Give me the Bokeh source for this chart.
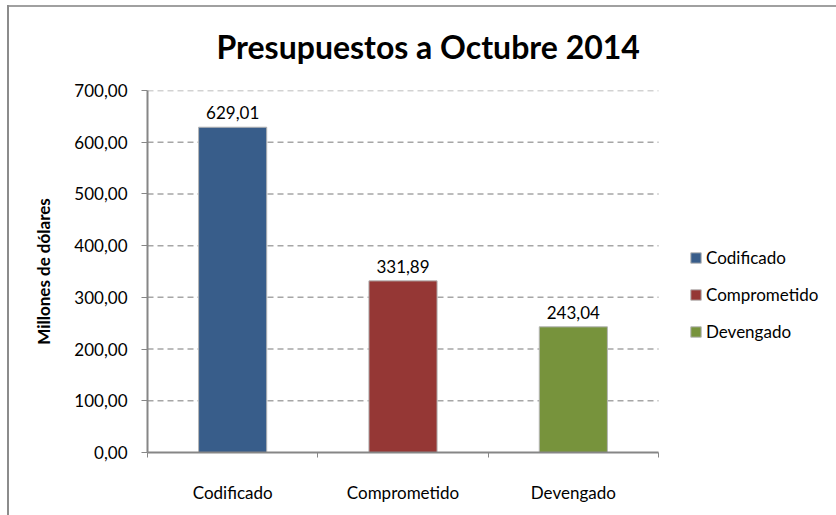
from bokeh.plotting import figure
from bokeh.models import (ColumnDataSource, FixedTicker, CustomJSTickFormatter,
                          Range1d, Legend, LegendItem, Title)
from bokeh.core.properties import value
from bokeh.embed import file_html
from bokeh.resources import INLINE

categories = ["Codificado", "Comprometido", "Devengado"]
values = [629.01, 331.89, 243.04]
labels = ["629,01", "331,89", "243,04"]
colors = ["#385D8A", "#953735", "#77933C"]
y_ticks = [0, 100, 200, 300, 400, 500, 600, 700]

FONT = "Lato"

W, H = 836, 515
LEFT, TOP, BOTTOM = 147, 90, 63
PLOT_RIGHT = 658  # right end of the category axis
n = len(categories)
x_end = n * (W - LEFT) / (PLOT_RIGHT - LEFT)

x_pos = [i + 0.5 for i in range(n)]
src = ColumnDataSource(dict(x=x_pos, top=values, cat=categories, lab=labels, color=colors))

p = figure(width=W, height=H, output_backend="svg", toolbar_location=None,
           x_range=Range1d(0, x_end), y_range=Range1d(0, y_ticks[-1]),
           min_border_left=LEFT, min_border_right=0, min_border_top=TOP, min_border_bottom=BOTTOM)
p.outline_line_color = None
p.background_fill_color = "white"
p.border_fill_alpha = 0
p.styles = {
    "background": "linear-gradient(#8C8C8C, #8C8C8C) 7px 5px / 2px 510px no-repeat, "
                  "linear-gradient(#A0A0A0, #A0A0A0) 7px 5px / 829px 2px no-repeat, white"
}

# dashed gridlines, limited to the category area
p.segment(x0=[0] * (len(y_ticks) - 1), x1=[n] * (len(y_ticks) - 1), y0=y_ticks[1:], y1=y_ticks[1:],
          line_color="#A6A6A6", line_dash="6 4", line_width=1.5)

bars = p.vbar(x="x", top="top", width=0.4, bottom=0, source=src, fill_color="color",
              line_color="#B4B4B4", line_width=1)

p.text(x="x", y="top", text="lab", source=src, text_align="center", text_baseline="bottom",
       y_offset=-8, text_font=value(FONT), text_font_size="17px", text_color="#000000")

# x axis
xa = p.xaxis[0]
xa.bounds = (0, n)
xa.ticker = FixedTicker(ticks=x_pos, minor_ticks=list(range(n + 1)))
xa.major_label_overrides = {x: c for x, c in zip(x_pos, categories)}
xa.major_tick_line_color = None
xa.major_tick_out = 0
xa.major_tick_in = 0
xa.minor_tick_line_color = "#868686"
xa.minor_tick_out = 5
xa.minor_tick_in = 0
xa.axis_line_color = "#868686"
xa.axis_line_width = 2
xa.major_label_standoff = 24
xa.major_label_text_font = FONT
xa.major_label_text_font_size = "17px"
xa.major_label_text_color = "#000000"

# y axis
ya = p.yaxis[0]
ya.ticker = FixedTicker(ticks=y_ticks)
ya.formatter = CustomJSTickFormatter(code="return tick.toFixed(2).replace('.', ',');")
ya.axis_line_color = "#868686"
ya.axis_line_width = 2
ya.major_tick_line_color = "#868686"
ya.major_tick_out = 6
ya.major_tick_in = 0
ya.minor_tick_line_color = None
ya.major_label_standoff = 14
ya.major_label_text_font = FONT
ya.major_label_text_font_size = "17px"
ya.major_label_text_color = "#000000"
ya.axis_label = "Millones de dólares"
ya.axis_label_text_font = FONT
ya.axis_label_text_font_style = "bold"
ya.axis_label_text_font_size = "17px"
ya.axis_label_standoff = 17
ya.axis_label_text_color = "#000000"

p.xgrid.grid_line_color = None
p.ygrid.grid_line_color = None

# title
p.title = Title(text="Presupuestos a Octubre 2014", align="left", offset=69,
                standoff=49, text_font=FONT, text_font_style="bold",
                text_font_size="32px", text_color="#000000")

# legend
items = [LegendItem(label=c, renderers=[bars], index=i) for i, c in enumerate(categories)]
legend = Legend(items=items, location=(542, 110), orientation="vertical",
                label_text_font=FONT, label_text_font_size="17px", label_text_color="#000000",
                glyph_width=13, glyph_height=13, spacing=16, label_standoff=4,
                border_line_color=None, background_fill_alpha=0, padding=0, margin=0)
p.add_layout(legend, "center")

open("out.html", "w").write(file_html(p, INLINE))
